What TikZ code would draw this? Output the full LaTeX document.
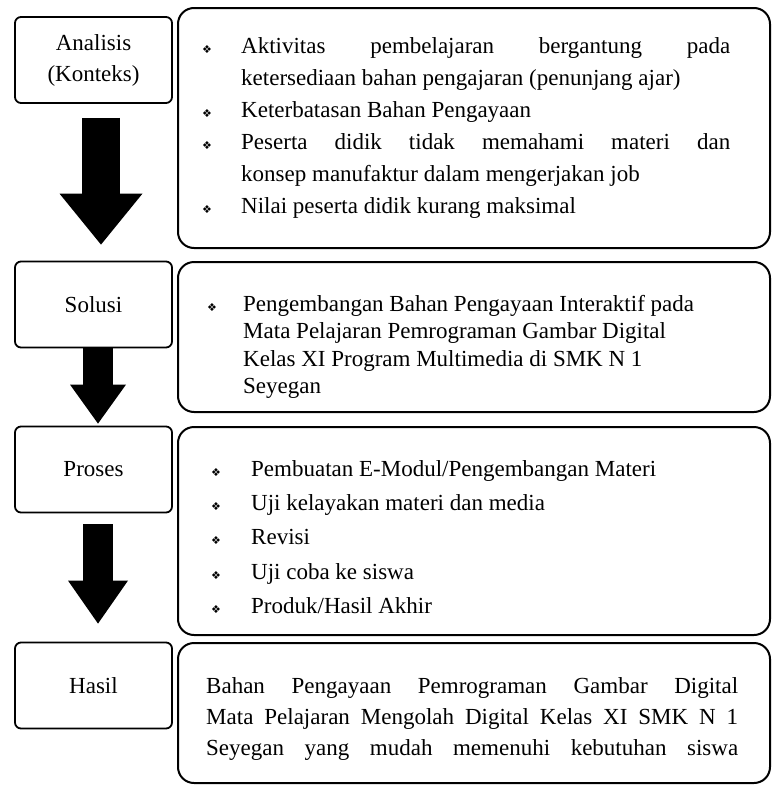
\documentclass[tikz,border=0pt]{standalone}
\usepackage{fontspec}
\setmainfont{Liberation Serif}
\newfontfamily\simbol{DejaVu Sans}
\usetikzlibrary{positioning, arrows.meta, calc}

\hyphenpenalty=10000
\exhyphenpenalty=10000

% butir daftar dengan tanda wajik
\newcommand{\butir}[2][38pt]{\noindent\hangindent=#1\hangafter=1%
  \makebox[#1][l]{\simbol\fontsize{11}{11}\selectfont ❖}#2\par}

\tikzset{
    tahap/.style={draw, line width=1.8pt, rounded corners=6pt,
        minimum width=157pt, minimum height=86pt, align=center,
        font=\fontsize{23}{31}\selectfont},
    uraian/.style={draw, line width=2pt, rounded corners=16pt,
        minimum width=592pt},
    teks/.style={anchor=north west, inner sep=0pt, text width=#1},
    panah/.style n args={3}{line width=#1, line cap=butt,
        -{Triangle[width=#2, length=#3, line width=0pt]}}
}

\begin{document}
\begin{tikzpicture}[x=1pt, y=-1pt]
    \useasboundingbox (0,0) rectangle (773,787);

    % Kotak tahapan di sebelah kiri
    \node[tahap] (analisis) at (93.5,60) {Analisis\\(Konteks)};
    \node[tahap] (solusi) at (93.5,304.5) {Solusi};
    \node[tahap] (proses) at (93.5,469.5) {Proses};
    \node[tahap] (hasil) at (93.5,685.5) {Hasil};

    % Panah blok di antara tahapan
    \draw[panah={38pt}{83pt}{51pt}] ($(analisis.south)+(7.5,14)$) -- ($(solusi.north)+(7.5,-16)$);
    \draw[panah={30pt}{56pt}{39pt}] ($(solusi.south)+(4.5,0)$) -- ($(proses.north)+(4.5,-2)$);
    \draw[panah={30pt}{60pt}{43pt}] ($(proses.south)+(4.5,11)$) -- ($(hasil.north)+(4.5,-18)$);

    % Kotak uraian di sebelah kanan
    \node[uraian, minimum height=240pt] (uraianA) at (474,128) {};
    \node[uraian, minimum height=150pt] (uraianB) at (474,337) {};
    \node[uraian, minimum height=208pt] (uraianC) at (474,531) {};
    \node[uraian, minimum height=140pt] (uraianD) at (474,713) {};

    % Isi uraian
    \node[teks=528pt, align=justify, font=\fontsize{23}{32}\selectfont] (isiA) at (202,37) {%
        \butir[39pt]{Aktivitas pembelajaran bergantung pada\linebreak ketersediaan bahan pengajaran (penunjang ajar)}
        \butir[39pt]{Keterbatasan Bahan Pengayaan}
        \butir[39pt]{Peserta didik tidak memahami materi dan\linebreak konsep manufaktur dalam mengerjakan job}
        \butir[39pt]{Nilai peserta didik kurang maksimal}};
    \node[teks=520pt, align=flush left, font=\fontsize{23}{27.5}\selectfont] (isiB) at (207,295) {%
        \butir[36pt]{Pengembangan Bahan Pengayaan Interaktif pada\newline
        Mata Pelajaran Pemrograman Gambar Digital\newline
        Kelas XI Program Multimedia di SMK N 1\newline
        Seyegan}};
    \node[teks=520pt, align=flush left, font=\fontsize{23}{34.3}\selectfont] (isiC) at (211,460) {%
        \butir[40pt]{Pembuatan E-Modul/Pengembangan Materi}
        \butir[40pt]{Uji kelayakan materi dan media}
        \butir[40pt]{Revisi}
        \butir[40pt]{Uji coba ke siswa}
        \butir[40pt]{Produk/Hasil Akhir}};
    \node[teks=532pt, align=justify, font=\fontsize{23}{31}\selectfont] (isiD) at (206,677) {%
        \parfillskip=0pt
        Bahan Pengayaan Pemrograman Gambar Digital\linebreak
        Mata Pelajaran Mengolah Digital Kelas XI SMK N 1\linebreak
        Seyegan yang mudah memenuhi kebutuhan siswa\par};
\end{tikzpicture}
\end{document}
